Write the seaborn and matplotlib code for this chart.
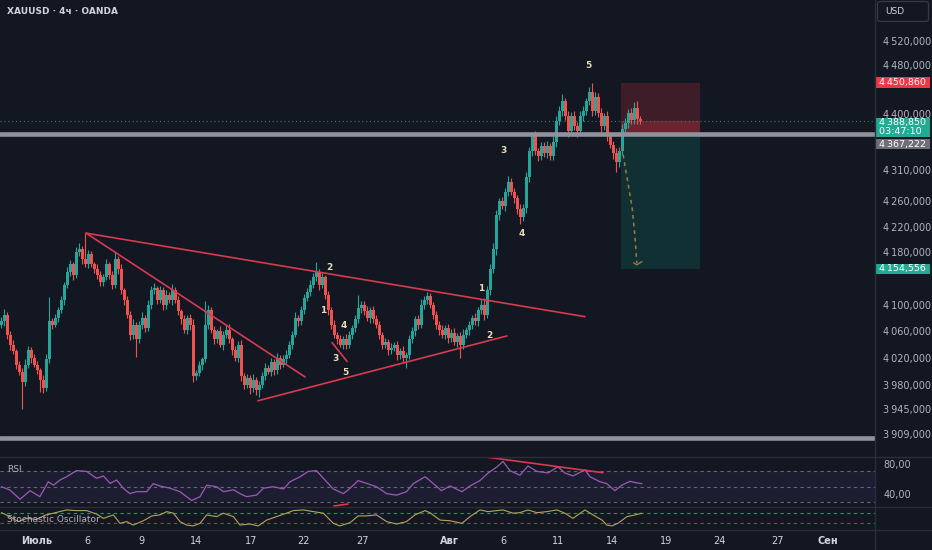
import numpy as np
import pandas as pd
import seaborn as sns
import matplotlib.pyplot as plt
from matplotlib.lines import Line2D
from matplotlib.patches import FancyBboxPatch
from matplotlib.ticker import NullLocator

# 4h closes, XAUUSD
closes = [4075, 4085, 4055, 4040, 4030, 4010, 4000, 3985, 4010, 4032,
          4020, 4010, 4002, 3988, 3976, 4018, 4075, 4070, 4080, 4092,
          4107, 4130, 4150, 4162, 4146, 4181, 4185, 4170, 4162, 4178,
          4162, 4155, 4146, 4134, 4142, 4162, 4146, 4130, 4170, 4155,
          4122, 4107, 4085, 4055, 4070, 4048, 4070, 4080, 4065, 4100,
          4122, 4125, 4107, 4122, 4100, 4115, 4107, 4122, 4107, 4090,
          4078, 4062, 4080, 4070, 3994, 3998, 4010, 4018, 4070, 4092,
          4062, 4048, 4060, 4040, 4055, 4062, 4048, 4032, 4020, 4040,
          3994, 3980, 3990, 3976, 3988, 3973, 3980, 3994, 4005, 4000,
          4014, 4002, 4020, 4010, 4018, 4025, 4040, 4055, 4080, 4075,
          4092, 4110, 4120, 4130, 4142, 4150, 4130, 4142, 4115, 4092,
          4070, 4055, 4048, 4040, 4048, 4040, 4055, 4065, 4078, 4095,
          4100, 4090, 4080, 4092, 4078, 4070, 4055, 4040, 4044, 4032,
          4035, 4040, 4025, 4030, 4020, 4025, 4048, 4060, 4078, 4070,
          4100, 4107, 4113, 4100, 4085, 4070, 4062, 4055, 4065, 4050,
          4058, 4044, 4053, 4040, 4055, 4062, 4070, 4080, 4075, 4092,
          4100, 4085, 4122, 4155, 4185, 4238, 4260, 4253, 4275, 4290,
          4275, 4265, 4247, 4235, 4250, 4298, 4340, 4364, 4340, 4332,
          4348, 4336, 4348, 4332, 4355, 4388, 4405, 4420, 4396, 4372,
          4396, 4380, 4372, 4396, 4405, 4420, 4435, 4405, 4427, 4402,
          4380, 4396, 4364, 4350, 4336, 4322, 4340, 4375, 4385, 4402,
          4390, 4410, 4392, 4388.85]
first_open = 4070

wick_up = [6, 8, 4, 5, 7, 3, 6, 5, 9, 6,
           4, 6, 5, 3, 7, 8, 37, 5, 6, 4,
           7, 5, 8, 6, 4, 7, 10, 5, 40, 6,
           5, 4, 7, 6, 5, 8, 4, 6, 10, 5,
           7, 4, 6, 5, 8, 4, 6, 9, 5, 7,
           6, 8, 4, 6, 5, 7, 4, 9, 5, 6,
           4, 7, 5, 6, 8, 5, 6, 4, 35, 7,
           5, 6, 4, 8, 5, 7, 9, 4, 6, 5,
           7, 4, 6, 5, 8, 4, 6, 5, 7, 4,
           6, 5, 8, 4, 6, 7, 5, 6, 9, 5,
           6, 7, 5, 8, 6, 16, 5, 7, 4, 6,
           5, 7, 4, 6, 5, 8, 6, 5, 7, 20,
           6, 5, 8, 4, 6, 7, 5, 4, 6, 5,
           7, 4, 6, 5, 8, 4, 6, 7, 5, 6,
           8, 6, 7, 5, 4, 6, 5, 7, 4, 6,
           5, 7, 4, 6, 8, 5, 6, 4, 7, 5,
           8, 10, 6, 7, 9, 8, 5, 7, 6, 10,
           7, 6, 5, 8, 6, 9, 7, 6, 8, 5,
           7, 6, 8, 5, 9, 8, 7, 12, 6, 8,
           7, 9, 6, 8, 7, 6, 8, 15, 9, 7,
           8, 6, 9, 7, 6, 8, 7, 9, 8, 6,
           7, 9, 10, 5]

wick_dn = [5, 7, 6, 8, 4, 6, 5, 40, 6, 5,
           7, 4, 6, 18, 8, 5, 6, 7, 4, 6,
           5, 7, 4, 6, 8, 5, 6, 7, 5, 6,
           4, 6, 7, 5, 6, 4, 7, 6, 5, 8,
           6, 7, 5, 8, 6, 26, 5, 7, 6, 4,
           7, 5, 6, 4, 8, 6, 5, 7, 4, 6,
           7, 5, 6, 8, 9, 6, 5, 7, 4, 6,
           5, 7, 6, 4, 8, 5, 6, 7, 5, 6,
           8, 6, 5, 9, 6, 7, 11, 5, 6, 4,
           6, 7, 5, 6, 4, 7, 5, 6, 4, 7,
           5, 6, 4, 7, 5, 6, 7, 5, 6, 8,
           6, 5, 7, 4, 7, 6, 5, 7, 6, 5,
           7, 6, 5, 8, 6, 5, 7, 6, 5, 7,
           6, 5, 8, 6, 7, 15, 6, 5, 7, 6,
           5, 7, 6, 5, 7, 6, 8, 5, 6, 7,
           6, 5, 7, 20, 6, 5, 7, 6, 5, 7,
           6, 8, 5, 7, 6, 9, 7, 6, 8, 7,
           6, 8, 7, 10, 6, 8, 7, 9, 6, 8,
           7, 6, 8, 7, 6, 9, 7, 8, 6, 9,
           8, 7, 9, 6, 8, 7, 6, 9, 7, 8,
           9, 7, 8, 6, 9, 16, 8, 7, 6, 8,
           7, 6, 8, 5]

# RSI (bar index, value)
rsi_bar = [0, 2.8, 6.2, 7.8, 9.5, 12.8, 15.6, 17.3, 19.5, 21.7, 25, 28.4, 31.7, 34,
           36.2, 38.4, 40.6, 42.8, 45, 48.4, 50.6, 52.8, 56.2, 59.5, 61.7, 63.4, 66.2,
           68.4, 71.7, 74, 77.3, 79.5, 81.7, 85, 87.3, 90.6, 94, 96.2, 99.5, 102.3,
           105, 107.3, 110.6, 114, 116.2, 118.9, 121.7, 125, 128.4, 131.7, 135, 137.3,
           141.2, 142.8, 146.7, 149.5, 153.5, 156.2, 159.5, 162.2, 165.2, 167.2, 169.5,
           172.8, 175.5, 178.5, 182.2, 185.5, 187.8, 190.5, 194.5, 196.2, 199.5, 201.8,
           204.5, 206.8, 209.5, 211.8, 213.5]
rsi_val = [50, 45.7, 33.5, 39, 44.8, 37, 56.5, 52, 58.7, 63, 71, 70, 61, 64,
           54.4, 58.7, 48, 41, 43.5, 43.5, 54, 51, 48, 43.5, 37, 32, 37,
           52, 50, 43.5, 46, 41, 37, 39, 48, 50, 47, 56.5, 63, 70,
           71, 61, 47, 41, 48, 58, 54.4, 50, 41, 39, 43.5, 54,
           63, 58, 44.8, 51, 43.5, 51, 58, 67.8, 76, 83, 71,
           65, 77, 70, 68, 76, 68, 64, 72, 63, 56.5, 54,
           44.8, 52, 57, 55, 54]

# Stochastic oscillator (bar index, value)
sto_bar = [0, 2.8, 5.6, 8.4, 11.7, 14.5, 17.3, 21.7, 25, 28.4, 31.7, 34, 37.3, 39.5,
           41.7, 43.9, 47.3, 50.1, 52.8, 55.1, 57.3, 59.5, 61.7, 63.9, 66.2, 68.4,
           71.7, 74, 77.3, 79.5, 82.8, 85.6, 88.4, 91.7, 95, 97.3, 100.6, 104, 107.3,
           110.6, 112.8, 116.2, 118.9, 121.7, 125, 128.4, 131.7, 135, 137.8, 141.2,
           142.8, 146.2, 149.5, 153.5, 156.2, 159.5, 162.2, 165.2, 167.2, 170.5, 172.8,
           175.5, 178.5, 181.8, 185.2, 187.8, 190.5, 194.5, 197.2, 200.2, 201.8, 203.5,
           205.5, 208.5, 211.2, 213.5]
sto_val = [80, 57, 28, 47, 41, 65, 77, 96, 92, 92, 72, 47, 67, 18,
           28, 8, 33, 61, 67, 86, 77, 28, 8, 3, 18, 67,
           57, 77, 57, 8, 14, 3, 37, 57, 77, 92, 96, 86, 77,
           18, 3, 22, 61, 61, 67, 28, 14, 28, 67, 92,
           80, 37, 33, 18, 57, 96, 86, 92, 96, 77, 80,
           96, 80, 86, 96, 77, 47, 96, 67, 37, 8, 3,
           18, 57, 67, 77]

price_ticks = [4520, 4480, 4400, 4310, 4260, 4220, 4180,
               4100, 4060, 4020, 3980, 3945, 3909]
date_bars = [11.8, 28.8, 46.8, 64.8, 83.2, 100.8, 120.2, 149.5, 167.2,
             185.5, 203.5, 221.5, 239.5, 258.8, 275.5]
date_labels = ['Июль', '6', '9', '14', '17', '22', '27', 'Авг', '6',
               '11', '14', '19', '24', '27', 'Сен']
months = ['Июль', 'Авг', 'Сен']

stop_price = 4450.860
entry_price = 4367.222
target_price = 4154.556
last_price = 4388.850
support_price = 3903
pos_bars = [206.5, 232.8]

# drawings: (bar0, price0, bar1, price1)
trend_lines = [(28.2, 4210, 194.5, 4082),
               (28.2, 4210, 101.2, 3992),
               (85.5, 3957, 168.5, 4053),
               (110.2, 4043, 115.2, 4015)]
wave_labels = ['5', '3', '4', '2', '1', '4', '3', '5', '1', '2']
wave_bars = [195.5, 167.5, 173.5, 109.2, 107.2, 114.2, 111.2, 114.5, 159.8, 162.5]
wave_prices = [4480, 4341, 4209, 4157, 4091, 4069, 4019, 3999, 4125, 4053]
proj_bar = [206.8, 208.5, 210.2, 211.2, 211.8]
proj_price = [4346, 4298, 4251, 4204, 4164]

BG = '#131722'
UP = '#26a69a'
DOWN = '#ef5350'
LINE_RED = '#d93a4f'
GRID = '#2a2e39'

sns.set_theme(style='dark', rc={'axes.facecolor': BG, 'figure.facecolor': BG,
                                'axes.edgecolor': BG, 'axes.grid': False})
plt.rcParams['font.family'] = ['DejaVu Sans']

df = pd.DataFrame({'close': closes, 'wu': wick_up, 'wd': wick_dn})
df['open'] = [first_open] + closes[:-1]
df['bar'] = np.arange(len(df))
df['top'] = df[['open', 'close']].max(axis=1)
df['bot'] = df[['open', 'close']].min(axis=1)
df['high'] = df['top'] + df['wu']
df['low'] = df['bot'] - df['wd']
df['body'] = (df['top'] - df['bot']).clip(lower=1.0)
df['color'] = np.where(df['close'] >= df['open'], UP, DOWN)

W, H = 932, 550
PX = 875
fig = plt.figure(figsize=(W / 100, H / 100), dpi=100)
ax_p = fig.add_axes([0, (H - 456.7) / H, PX / W, 456.7 / H])
ax_r = fig.add_axes([0, (H - 507) / H, PX / W, 50.3 / H], sharex=ax_p)
ax_s = fig.add_axes([0, (H - 529) / H, PX / W, 22 / H], sharex=ax_p)

for ax in (ax_p, ax_r, ax_s):
    ax.set_facecolor(BG)
    for sp in ax.spines.values():
        sp.set_visible(False)
    ax.grid(False)

# ---- price pane
ax_p.set_yscale('log')
ax_p.set_ylim(3876, 4589)
ax_p.set_xlim(-0.5, 291.2)

ax_p.fill_between(pos_bars, entry_price, stop_price, color='#f23645', alpha=0.2, lw=0, zorder=1)
ax_p.fill_between(pos_bars, entry_price, last_price, color='#f23645', alpha=0.25, lw=0, zorder=1)
ax_p.fill_between(pos_bars, target_price, entry_price, color='#089981', alpha=0.2, lw=0, zorder=1)

ax_p.axhline(last_price, color='#3f7d78', lw=0.8, ls=(0, (1, 2.5)), zorder=2)

ax_p.vlines(df['bar'], df['low'], df['high'], colors=df['color'], lw=0.8, zorder=3)
ax_p.bar(df['bar'], df['body'], bottom=df['bot'], width=0.72, color=df['color'], lw=0, zorder=3)

ax_p.axhline(entry_price, color='#8f929b', lw=3.3, zorder=4)
ax_p.axhline(support_price, color='#8f929b', lw=3.3, zorder=4)

for b0, p0, b1, p1 in trend_lines:
    ax_p.plot([b0, b1], [p0, p1], color=LINE_RED, lw=1.2, zorder=5)

ax_p.plot(proj_bar, proj_price, color='#a07c3a', lw=1.1, ls=(0, (2.5, 2.5)), zorder=5)
ax_p.plot([proj_bar[-1] - 1, proj_bar[-1], proj_bar[-1] + 1.7],
          [proj_price[-1], proj_price[-1] - 3, proj_price[-1] + 2],
          color='#a07c3a', lw=1.0, zorder=5)

for s, b, p in zip(wave_labels, wave_bars, wave_prices):
    ax_p.text(b, p, s, color='#e8dcb5', fontsize=6.5, fontweight='bold',
              ha='center', va='center', zorder=6)


def fmt(p):
    return f'{p:,.3f}'.replace(',', '\u2009').replace('.', ',')


ax_p.yaxis.tick_right()
ax_p.set_yticks(price_ticks, [fmt(p) for p in price_ticks])
ax_p.yaxis.set_minor_locator(NullLocator())
ax_p.tick_params(axis='y', length=0, pad=6, labelsize=7, labelcolor='#b2b5be')
ax_p.tick_params(axis='x', length=0, labelbottom=False)

trans = ax_p.get_yaxis_transform()
tag_x = 1.0 + 1 / PX
for txt, price, fc in [(fmt(stop_price), stop_price, '#f23645'),
                       (fmt(last_price) + '\n03:47:10', 4378, '#22ab94'),
                       (fmt(entry_price), 4351, '#6d7079'),
                       (fmt(target_price), target_price, '#22ab94')]:
    ax_p.text(tag_x, price, ' ' + txt.replace('\n', ' \n ') + ' ', transform=trans,
              ha='left', va='center', fontsize=6.8, color='white', linespacing=1.0,
              clip_on=False, zorder=10,
              bbox=dict(boxstyle='square,pad=0.08', fc=fc, ec='none'))

# ---- RSI pane
ax_r.set_ylim(23.5, 89.2)
ax_r.axhspan(30, 70, color='#7e57c2', alpha=0.1, lw=0)
for lvl in (70, 50, 30):
    ax_r.axhline(lvl, color='#787b86', lw=0.8, ls=(0, (3, 3)), alpha=0.8)
sns.lineplot(x=rsi_bar, y=rsi_val, ax=ax_r, color='#9b5bb5', lw=0.9)
ax_r.plot([162.2, 200.5], [88.4, 68.3], color=LINE_RED, lw=1.2)
ax_r.plot([110.8, 115.5], [24.8, 27.4], color=LINE_RED, lw=1.2)
ax_r.yaxis.tick_right()
ax_r.set_yticks([80, 40], ['80,00', '40,00'])
ax_r.tick_params(axis='y', length=0, pad=6, labelsize=7, labelcolor='#b2b5be')
ax_r.tick_params(axis='x', length=0, labelbottom=False)
ax_r.set_xlabel('')
ax_r.set_ylabel('')

# ---- Stochastic pane
ax_s.set_ylim(-15, 113)
ax_s.axhline(80, color='#3a8a5c', lw=0.8, ls=(0, (3, 3)))
ax_s.axhline(20, color='#b8323f', lw=0.8, ls=(0, (3, 3)))
sns.lineplot(x=sto_bar, y=sto_val, ax=ax_s, color='#b5a55a', lw=0.8)
ax_s.set_yticks([])
ax_s.set_xlabel('')
ax_s.set_ylabel('')
ax_s.set_xticks(date_bars, date_labels)
ax_s.tick_params(axis='x', length=0, pad=5, labelsize=7, labelcolor='#d1d4dc')
for lbl in ax_s.get_xticklabels():
    if lbl.get_text() in months:
        lbl.set_fontweight('bold')
ax_p.set_xlim(-0.5, 291.2)

# ---- frame, separators, captions
for y in (456.7, 507, 529.5):
    fig.add_artist(Line2D([0, 1], [1 - y / H, 1 - y / H], transform=fig.transFigure,
                          color=GRID, lw=1))
fig.add_artist(Line2D([PX / W, PX / W], [0, 1], transform=fig.transFigure, color=GRID, lw=1))

fig.text(7 / W, 1 - 12 / H, 'XAUUSD · 4ч · OANDA', fontsize=6.5, fontweight='bold',
         color='#d1d4dc', ha='left', va='center')
fig.text(7 / W, 1 - 469 / H, 'RSI', fontsize=6.5, color='#b2b5be', ha='left', va='center')
fig.text(7 / W, 1 - 520 / H, 'Stochastic Oscillator', fontsize=6.5, color='#b2b5be',
         ha='left', va='center')

fig.add_artist(FancyBboxPatch((877.5 / W, 1 - 21.5 / H), 51 / W, 20 / H,
                              boxstyle='round,pad=0,rounding_size=0.004',
                              transform=fig.transFigure, fc=BG, ec='#363a45', lw=0.9))
fig.text(885 / W, 1 - 12 / H, 'USD', fontsize=6.5, color='#d1d4dc', ha='left', va='center')

fig.savefig('out.png', dpi=100, facecolor=BG)
